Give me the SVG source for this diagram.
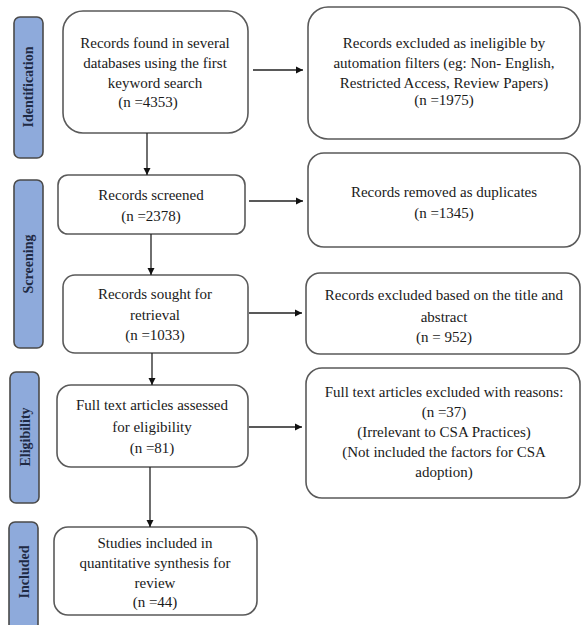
<svg xmlns="http://www.w3.org/2000/svg" width="582" height="625" viewBox="0 0 582 625">
<defs>
<marker id="ah" markerWidth="8" markerHeight="8" refX="7" refY="4" orient="auto" markerUnits="userSpaceOnUse">
<path d="M0,0.5 L7,4 L0,7.5 Z" fill="#111"/>
</marker>
<style>
.box{fill:#fff;stroke:#5a5a5a;stroke-width:1.6}
.bar{fill:#8eaadb;stroke:#4a4a4a;stroke-width:1.6}
.t{font-size:15px;fill:#1a1a1a;text-anchor:middle}
.s{font-size:14px;font-weight:bold;fill:#1f2a44;text-anchor:middle}
.c{stroke:#222;stroke-width:1.3;fill:none;marker-end:url(#ah)}
</style>
</defs>
<rect width="582" height="625" fill="#fff"/>
<g font-family="'Liberation Serif', 'DejaVu Serif', serif">
<g id="stage-identification">
<rect class="bar" x="14" y="17" width="29" height="141" rx="6"/>
<text class="s" transform="translate(33,87) rotate(-90)">Identification</text>
</g>
<g id="stage-screening">
<rect class="bar" x="14" y="180" width="29" height="168" rx="6"/>
<text class="s" transform="translate(33,264) rotate(-90)">Screening</text>
</g>
<g id="stage-eligibility">
<rect class="bar" x="10" y="372" width="29" height="131" rx="6"/>
<text class="s" transform="translate(30,437) rotate(-90)">Eligibility</text>
</g>
<g id="stage-included">
<rect class="bar" x="9" y="522" width="29" height="110" rx="6"/>
<text class="s" transform="translate(29,572) rotate(-90)">Included</text>
</g>

<g id="n1">
<rect class="box" x="63" y="11" width="185" height="122" rx="20"/>
<text class="t" x="155" y="48">Records found in several</text>
<text class="t" x="155" y="68">databases using  the first</text>
<text class="t" x="155" y="88">keyword search</text>
<text class="t" x="148" y="107">(n =4353)</text>
</g>
<g id="n2">
<rect class="box" x="58" y="175" width="187" height="59" rx="10"/>
<text class="t" x="151" y="200">Records screened</text>
<text class="t" x="151" y="221">(n =2378)</text>
</g>
<g id="n3">
<rect class="box" x="63" y="275" width="185" height="78" rx="12"/>
<text class="t" x="155" y="299">Records sought  for</text>
<text class="t" x="155" y="320">retrieval</text>
<text class="t" x="155" y="340">(n =1033)</text>
</g>
<g id="n4">
<rect class="box" x="57" y="385" width="191" height="82" rx="14"/>
<text class="t" x="152" y="410">Full text articles assessed</text>
<text class="t" x="152" y="432">for eligibility</text>
<text class="t" x="152" y="453">(n =81)</text>
</g>
<g id="n5">
<rect class="box" x="54" y="527" width="203" height="88" rx="14"/>
<text class="t" x="155" y="548">Studies included in</text>
<text class="t" x="155" y="568">quantitative synthesis for</text>
<text class="t" x="155" y="588">review</text>
<text class="t" x="155" y="607">(n =44)</text>
</g>

<g id="r1">
<rect class="box" x="308" y="7" width="272" height="132" rx="20"/>
<text class="t" x="444" y="48">Records excluded  as ineligible  by</text>
<text class="t" x="444" y="68">automation  filters  (eg: Non- English,</text>
<text class="t" x="444" y="88">Restricted  Access, Review  Papers)</text>
<text class="t" x="444" y="105">(n =1975)</text>
</g>
<g id="r2">
<rect class="box" x="308" y="153" width="272" height="94" rx="16"/>
<text class="t" x="444" y="197">Records removed  as duplicates</text>
<text class="t" x="444" y="218">(n =1345)</text>
</g>
<g id="r3">
<rect class="box" x="306" y="273" width="274" height="81" rx="14"/>
<text class="t" x="444" y="300">Records excluded  based on the title  and</text>
<text class="t" x="444" y="322">abstract</text>
<text class="t" x="444" y="342">(n = 952)</text>
</g>
<g id="r4">
<rect class="box" x="306" y="368" width="274" height="130" rx="16"/>
<text class="t" x="444" y="397">Full  text  articles  excluded  with  reasons:</text>
<text class="t" x="444" y="417">(n =37)</text>
<text class="t" x="444" y="437">(Irrelevant  to CSA Practices)</text>
<text class="t" x="444" y="457">(Not included  the factors  for  CSA</text>
<text class="t" x="444" y="477">adoption)</text>
</g>
</g>
<g id="connectors">
<line class="c" x1="253" y1="70" x2="303" y2="70"/>
<line class="c" x1="249" y1="201" x2="303" y2="201"/>
<line class="c" x1="249" y1="313" x2="302" y2="313"/>
<line class="c" x1="249" y1="427" x2="302" y2="427"/>
<line class="c" x1="147" y1="133" x2="147" y2="175"/>
<line class="c" x1="151" y1="234" x2="151" y2="275"/>
<line class="c" x1="152" y1="353" x2="152" y2="385"/>
<line class="c" x1="150" y1="467" x2="150" y2="527"/>
</g>
</svg>
